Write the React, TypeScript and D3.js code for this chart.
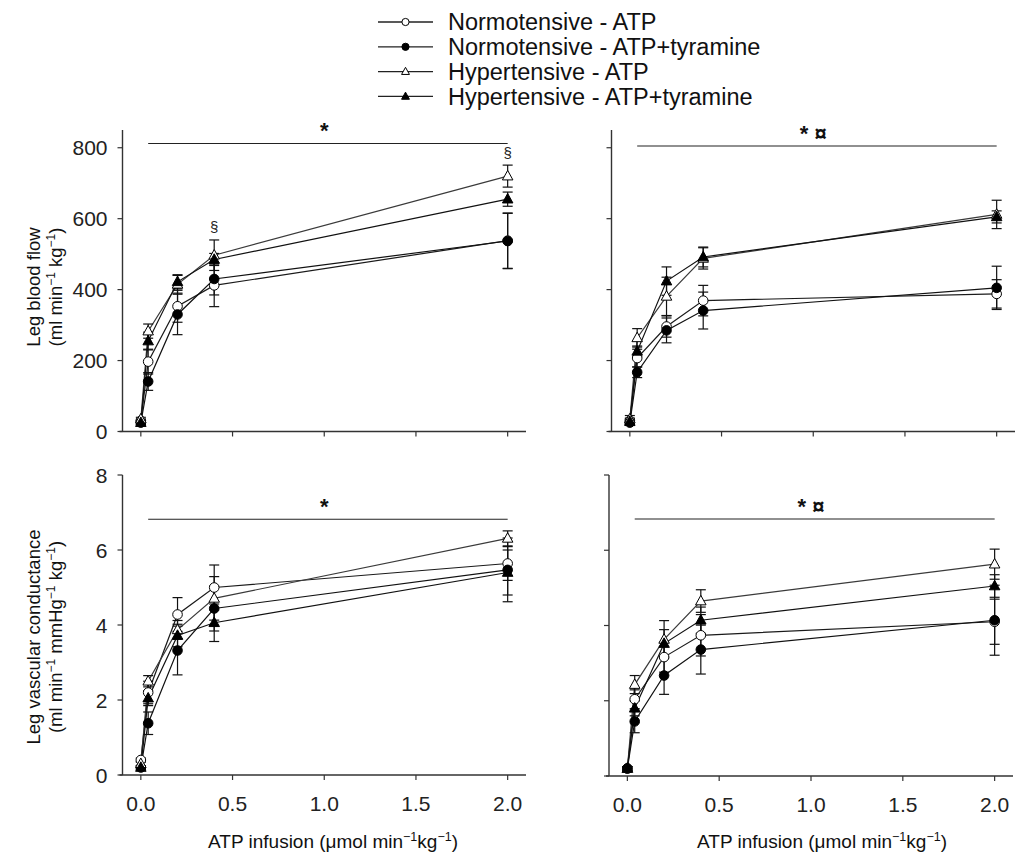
import React from 'react';
import * as d3 from 'd3';

const doses = [0, 0.04, 0.2, 0.4, 2.0];
const xTicks = [0, 0.5, 1.0, 1.5, 2.0];
const flowTicks = [0, 200, 400, 600, 800];
const condTicks = [0, 2, 4, 6, 8];
const seriesNames = [
  'Normotensive - ATP',
  'Normotensive - ATP+tyramine',
  'Hypertensive - ATP',
  'Hypertensive - ATP+tyramine',
];

// Top-left: leg blood flow
const flowL_NA = [30, 197, 353, 412, 538];
const flowL_NA_err = [5, 35, 45, 60, 78];
const flowL_NT = [25, 141, 330, 430, 537];
const flowL_NT_err = [5, 25, 57, 45, 78];
const flowL_HA = [35, 283, 415, 497, 720];
const flowL_HA_err = [5, 20, 25, 43, 31];
const flowL_HT = [25, 255, 422, 485, 655];
const flowL_HT_err = [5, 25, 20, 17, 20];

// Top-right: leg blood flow
const flowR_NA = [30, 207, 296, 369, 388];
const flowR_NA_err = [8, 25, 30, 43, 40];
const flowR_NT = [25, 167, 285, 341, 405];
const flowR_NT_err = [8, 15, 35, 52, 61];
const flowR_HA = [35, 264, 381, 488, 612];
const flowR_HA_err = [10, 26, 54, 30, 40];
const flowR_HT = [28, 226, 424, 492, 605];
const flowR_HT_err = [8, 15, 40, 28, 17];

// Bottom-left: leg vascular conductance
const condL_NA = [0.4, 2.2, 4.28, 5.0, 5.64];
const condL_NA_err = [0.05, 0.3, 0.45, 0.6, 0.45];
const condL_NT = [0.2, 1.38, 3.32, 4.44, 5.47];
const condL_NT_err = [0.05, 0.3, 0.65, 0.6, 0.85];
const condL_HA = [0.3, 2.5, 3.87, 4.71, 6.31];
const condL_HA_err = [0.05, 0.15, 0.25, 0.58, 0.2];
const condL_HT = [0.2, 2.05, 3.72, 4.06, 5.4];
const condL_HT_err = [0.05, 0.2, 0.3, 0.5, 0.6];

// Bottom-right: leg vascular conductance
const condR_NA = [0.2, 2.04, 3.16, 3.74, 4.1];
const condR_NA_err = [0.05, 0.25, 0.4, 0.55, 0.6];
const condR_NT = [0.2, 1.45, 2.67, 3.36, 4.14];
const condR_NT_err = [0.05, 0.3, 0.5, 0.65, 0.93];
const condR_HA = [0.2, 2.43, 3.63, 4.65, 5.63];
const condR_HA_err = [0.05, 0.24, 0.5, 0.3, 0.4];
const condR_HT = [0.2, 1.8, 3.52, 4.14, 5.05];
const condR_HT_err = [0.05, 0.2, 0.37, 0.35, 0.3];

const FONT = '"Liberation Sans", Arial, Helvetica, sans-serif';
const markerKinds = ['openCircle', 'filledCircle', 'openTriangle', 'filledTriangle'];
const lineColors = ['#1a1a1a', '#111', '#3a3a3a', '#111'];

function Marker({ kind, x, y, s = 1 }: { kind: string; x: number; y: number; s?: number }) {
  const filled = kind.startsWith('filled');
  const fill = filled ? '#000' : '#fff';
  if (kind.endsWith('Circle')) {
    return <circle cx={x} cy={y} r={4.8 * s} fill={fill} stroke="#000" strokeWidth={1} />;
  }
  const h = 9.5 * s;
  const w = 10.5 * s;
  const p = `M${x},${y - h * 0.6} L${x + w / 2},${y + h * 0.4} L${x - w / 2},${y + h * 0.4} Z`;
  return <path d={p} fill={fill} stroke="#000" strokeWidth={1} />;
}

type PanelProps = {
  x0: number; x1: number; yb: number; yt: number;
  yDomain: [number, number];
  yTicks: number[];
  showYLabels: boolean;
  showXLabels: boolean;
  series: number[][];
  errors: number[][];
  sigY: number;
  sigText: string;
  sections?: { x: number; y: number }[];
};

function Panel(p: PanelProps) {
  const x = d3.scaleLinear().domain([-0.1, 2.1]).range([p.x0, p.x1]);
  const y = d3.scaleLinear().domain(p.yDomain).range([p.yb, p.yt]);
  const line = d3.line<number>().x((_, i) => x(doses[i])).y((v) => y(v));
  const axisColor = '#333';
  return (
    <g>
      <line x1={p.x0} y1={p.yt} x2={p.x0} y2={p.yb} stroke={axisColor} strokeWidth={1.4} />
      <line x1={p.x0 - 3} y1={p.yb} x2={p.x1} y2={p.yb} stroke={axisColor} strokeWidth={1.4} />
      {p.yTicks.map((t) => (
        <g key={'y' + t}>
          <line x1={p.x0 - 5} x2={p.x0} y1={y(t)} y2={y(t)} stroke={axisColor} strokeWidth={1.2} />
          {p.showYLabels && (
            <text x={p.x0 - 15} y={y(t)} dy="0.36em" textAnchor="end" fontSize={21} fontFamily={FONT} fill="#222">
              {t}
            </text>
          )}
        </g>
      ))}
      {xTicks.map((t) => (
        <g key={'x' + t}>
          <line x1={x(t)} x2={x(t)} y1={p.yb} y2={p.yb + 5} stroke={axisColor} strokeWidth={1.2} />
          {p.showXLabels && (
            <text x={x(t)} y={p.yb + 28} dy="0.36em" textAnchor="middle" fontSize={21} fontFamily={FONT} fill="#222">
              {t.toFixed(1)}
            </text>
          )}
        </g>
      ))}
      <line x1={x(0.04)} x2={x(2.0)} y1={y(p.sigY)} y2={y(p.sigY)} stroke="#222" strokeWidth={1.1} />
      <text x={x(1.0)} y={y(p.sigY) - 5} textAnchor="middle" fontSize={22} fontWeight="bold" fontFamily={FONT} fill="#111">
        {p.sigText}
      </text>
      {(p.sections || []).map((s, i) => (
        <text key={'s' + i} x={x(s.x)} y={y(s.y)} dy="0.35em" textAnchor="middle" fontSize={15} fontFamily={FONT} fill="#222">
          §
        </text>
      ))}
      {p.series.map((vals, si) => (
        <path key={'l' + si} d={line(vals) || ''} fill="none" stroke={lineColors[si]} strokeWidth={1.2} />
      ))}
      {p.series.map((vals, si) => (
        <g key={'e' + si} stroke="#111" strokeWidth={1.2}>
          {vals.map((v, i) => {
            const e = p.errors[si][i];
            const cx = x(doses[i]);
            return (
              <g key={i}>
                <line x1={cx} x2={cx} y1={y(v - e)} y2={y(v + e)} />
                <line x1={cx - 5} x2={cx + 5} y1={y(v - e)} y2={y(v - e)} />
                <line x1={cx - 5} x2={cx + 5} y1={y(v + e)} y2={y(v + e)} />
              </g>
            );
          })}
        </g>
      ))}
      {p.series.map((vals, si) => (
        <g key={'m' + si}>
          {vals.map((v, i) => (
            <Marker key={i} kind={markerKinds[si]} x={x(doses[i])} y={y(v)} />
          ))}
        </g>
      ))}
    </g>
  );
}

export default function App() {
  const legendX1 = 378;
  const legendX2 = 433;
  const legendY0 = 22;
  const legendDy = 24.8;
  return (
    <svg width={1019} height={861} style={{ position: 'absolute', left: 0, top: 0, background: '#fff' }} fontFamily={FONT}>
      <rect x={0} y={0} width={1019} height={861} fill="#fff" />
      {seriesNames.map((name, i) => {
        const ly = legendY0 + i * legendDy;
        return (
          <g key={name}>
            <line x1={legendX1} x2={legendX2} y1={ly} y2={ly} stroke="#222" strokeWidth={1.3} />
            <Marker kind={markerKinds[i]} x={(legendX1 + legendX2) / 2} y={ly} s={0.75} />
            <text x={448} y={ly} dy="0.36em" fontSize={23.5} fill="#111">
              {name}
            </text>
          </g>
        );
      })}

      <Panel
        x0={122.5} x1={526} yb={431.5} yt={130}
        yDomain={[0, 850]} yTicks={flowTicks}
        showYLabels={true} showXLabels={false}
        series={[flowL_NA, flowL_NT, flowL_HA, flowL_HT]}
        errors={[flowL_NA_err, flowL_NT_err, flowL_HA_err, flowL_HT_err]}
        sigY={812} sigText="*"
        sections={[{ x: 0.4, y: 577 }, { x: 2.0, y: 785 }]}
      />
      <Panel
        x0={611.5} x1={1015} yb={431.5} yt={130}
        yDomain={[0, 850]} yTicks={flowTicks}
        showYLabels={false} showXLabels={false}
        series={[flowR_NA, flowR_NT, flowR_HA, flowR_HT]}
        errors={[flowR_NA_err, flowR_NT_err, flowR_HA_err, flowR_HT_err]}
        sigY={805} sigText="* ¤"
      />
      <Panel
        x0={122.5} x1={526} yb={775} yt={475}
        yDomain={[0, 8]} yTicks={condTicks}
        showYLabels={true} showXLabels={true}
        series={[condL_NA, condL_NT, condL_HA, condL_HT]}
        errors={[condL_NA_err, condL_NT_err, condL_HA_err, condL_HT_err]}
        sigY={6.82} sigText="*"
      />
      <Panel
        x0={609} x1={1013} yb={776} yt={475}
        yDomain={[0, 8]} yTicks={condTicks}
        showYLabels={false} showXLabels={true}
        series={[condR_NA, condR_NT, condR_HA, condR_HT]}
        errors={[condR_NA_err, condR_NT_err, condR_HA_err, condR_HT_err]}
        sigY={6.83} sigText="* ¤"
      />

      <g transform="translate(33,287) rotate(-90)">
        <text textAnchor="middle" dy="0.36em" fontSize={18.5} fill="#111">Leg blood flow</text>
      </g>
      <g transform="translate(55,287) rotate(-90)">
        <text textAnchor="middle" dy="0.36em" fontSize={18.5} fill="#111">
          (ml min<tspan fontSize={12} dy={-7}>−1</tspan>
          <tspan dy={7}> kg</tspan>
          <tspan fontSize={12} dy={-7}>−1</tspan>
          <tspan dy={7}>)</tspan>
        </text>
      </g>
      <g transform="translate(33,637) rotate(-90)">
        <text textAnchor="middle" dy="0.36em" fontSize={18.5} fill="#111">Leg vascular conductance</text>
      </g>
      <g transform="translate(55,637) rotate(-90)">
        <text textAnchor="middle" dy="0.36em" fontSize={18.5} fill="#111">
          (ml min<tspan fontSize={12} dy={-7}>−1</tspan>
          <tspan dy={7}> mmHg</tspan>
          <tspan fontSize={12} dy={-7}>−1</tspan>
          <tspan dy={7}> kg</tspan>
          <tspan fontSize={12} dy={-7}>−1</tspan>
          <tspan dy={7}>)</tspan>
        </text>
      </g>

      {[333, 822].map((cx) => (
        <text key={cx} x={cx} y={841} dy="0.36em" textAnchor="middle" fontSize={19} fill="#111">
          ATP infusion (μmol min<tspan fontSize={12.5} dy={-7}>−1</tspan>
          <tspan dy={7}>kg</tspan>
          <tspan fontSize={12.5} dy={-7}>−1</tspan>
          <tspan dy={7}>)</tspan>
        </text>
      ))}
    </svg>
  );
}
